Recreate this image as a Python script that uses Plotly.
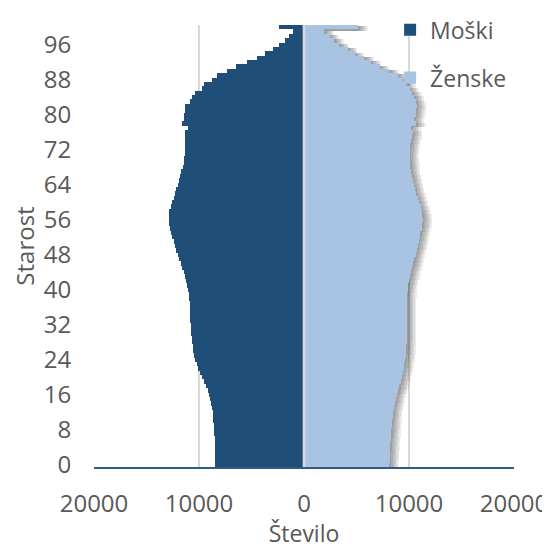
import plotly.graph_objects as go

# ---- data ----
ages = list(range(0, 101))

male = [
    8480, 8480, 8480, 8480, 8480, 8500, 8520, 8540, 8560, 8590,
    8620, 8650, 8700, 8760, 8850, 8950, 9050, 9180, 9330, 9500,
    9680, 9870, 10050, 10220, 10350, 10460, 10540, 10600, 10650, 10700,
    10740, 10770, 10790, 10810, 10840, 10860, 10880, 10900, 10920, 10980,
    11050, 11110, 11220, 11330, 11430, 11580, 11720, 11870, 12030, 12200,
    12290, 12420, 12550, 12650, 12730, 12820, 12870, 12880, 12840, 12700,
    12560, 12420, 12290, 12160, 12030, 11900, 11790, 11680, 11570, 11460,
    11400, 11350, 11320, 11300, 11300, 11300, 11300, 11080, 11620, 11430,
    11430, 11370, 11300, 10860, 10640, 10380, 9750, 9490, 8790, 8250,
    7370, 6480, 5400, 4510, 3680, 2980, 2350, 1840, 1400, 1020,
    2380,
]

female = [
    8140, 8150, 8160, 8180, 8200, 8220, 8250, 8290, 8320, 8350,
    8390, 8430, 8480, 8540, 8620, 8720, 8820, 8950, 9080, 9200,
    9300, 9400, 9500, 9570, 9630, 9690, 9730, 9760, 9780, 9790,
    9790, 9790, 9790, 9790, 9790, 9790, 9790, 9790, 9790, 9820,
    9860, 9890, 9990, 10100, 10200, 10310, 10420, 10520, 10620, 10720,
    10840, 10920, 11000, 11080, 11200, 11260, 11300, 11280, 11200, 11100,
    10950, 10820, 10690, 10570, 10460, 10370, 10280, 10190, 10130, 10100,
    10060, 10050, 10080, 10140, 10210, 10290, 10370, 10210, 10680, 10520,
    10620, 10680, 10750, 10680, 10520, 10300, 10050, 9730, 9410, 8940,
    8140, 7190, 6400, 5760, 4810, 4190, 3380, 2900, 2430, 1950,
    5170,
]

age_ticks = [0, 8, 16, 24, 32, 40, 48, 56, 64, 72, 80, 88, 96]
x_tickvals = [-20000, -10000, 0, 10000, 20000]
x_ticktext = ["20000", "10000", "0", "10000", "20000"]

series_names = ["Moški", "Ženske"]
x_title = "Število"
y_title = "Starost"

# ---- style ----
MALE_COLOR = "#1F4E79"
FEMALE_COLOR = "#A9C4E3"
TEXT_COLOR = "#595959"
GRID_COLOR = "#D9D9D9"
FONT = "Open Sans"
FS = 24

# the page body has an 8px default margin: size the figure to fit the window
W, H = 542, 541

fig = go.Figure()

# soft drop shadow behind the female bars (several translucent layers)
shadow_steps = [150, 300, 450, 600, 750, 900]
for s in shadow_steps:
    fig.add_trace(go.Bar(
        y=ages, x=[v + s for v in female], orientation="h",
        marker=dict(color="rgba(0,0,0,0.075)", line=dict(width=0)),
        width=1, offset=-0.8, showlegend=False, hoverinfo="skip",
    ))

fig.add_trace(go.Bar(
    y=ages, x=[-v for v in male], orientation="h", name=series_names[0],
    marker=dict(color=MALE_COLOR, line=dict(width=0)), width=1,
    legendgroup="m",
))
fig.add_trace(go.Bar(
    y=ages, x=female, orientation="h", name=series_names[1],
    marker=dict(color=FEMALE_COLOR, line=dict(width=0)), width=1,
    legendgroup="f",
))

fig.add_shape(type="line", xref="x", yref="y", x0=0, x1=0, y0=-0.5, y1=100.5,
              line=dict(color=GRID_COLOR, width=2.6), layer="above")

fig.update_layout(
    width=W, height=H,
    margin=dict(l=86, r=36, t=17, b=82, autoexpand=False),
    barmode="overlay", bargap=0,
    paper_bgcolor="white", plot_bgcolor="white",
    font=dict(family=FONT, size=FS, color=TEXT_COLOR),
    legend=dict(
        x=0.705, y=1.038, xanchor="left", yanchor="top",
        bgcolor="rgba(0,0,0,0)", font=dict(size=23, color=TEXT_COLOR),
        traceorder="grouped", tracegroupgap=15, itemwidth=30,
    ),
    xaxis=dict(
        range=[-20000, 20000], tickvals=x_tickvals, ticktext=x_ticktext,
        showgrid=True, gridcolor=GRID_COLOR, gridwidth=1.6,
        zeroline=False, showline=True, linecolor="#2F5B8C", linewidth=2,
        ticks="outside", ticklen=14, tickcolor="rgba(0,0,0,0)",
        tickfont=dict(size=FS, color=TEXT_COLOR),
        title=dict(text=x_title, font=dict(size=23, color=TEXT_COLOR), standoff=16),
        automargin=False, fixedrange=True,
    ),
    yaxis=dict(
        range=[-0.5, 100.5], tickvals=age_ticks, tickmode="array",
        showgrid=False, zeroline=False, showline=False,
        ticks="outside", ticklen=17, tickcolor="rgba(0,0,0,0)",
        tickfont=dict(size=FS, color=TEXT_COLOR),
        title=dict(text=y_title, font=dict(size=FS, color=TEXT_COLOR), standoff=9),
        automargin=False, fixedrange=True,
    ),
)

fig.write_html("out.html")
